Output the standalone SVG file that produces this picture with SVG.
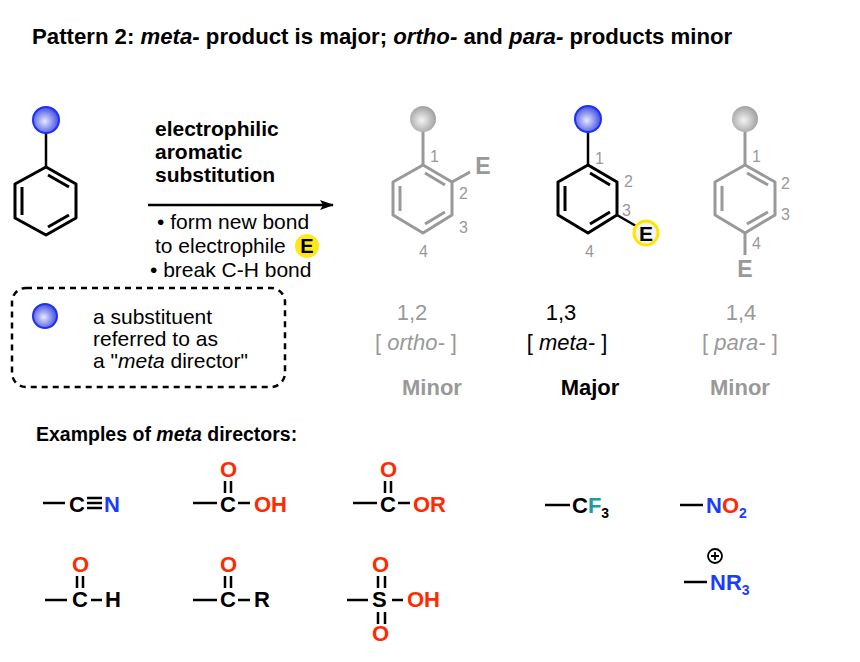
<svg xmlns="http://www.w3.org/2000/svg" width="860" height="662" viewBox="0 0 860 662">
<defs>
<radialGradient id="gb" cx="0.45" cy="0.55" r="0.6"><stop offset="0" stop-color="#e8e8ff"/><stop offset="1" stop-color="#3040e0"/></radialGradient>
<radialGradient id="gg" cx="0.45" cy="0.55" r="0.6"><stop offset="0" stop-color="#f4f4f4"/><stop offset="1" stop-color="#999"/></radialGradient>
<marker id="ah" markerWidth="14" markerHeight="10" refX="13" refY="5" orient="auto" markerUnits="userSpaceOnUse"><path d="M0,0 L14,5 L0,10 L3,5 Z" fill="#000"/></marker>
</defs>
<style>
text{font-family:"Liberation Sans",Arial,sans-serif}
.b{font-weight:bold}
.ring{fill:none;stroke-width:3;stroke-linejoin:round}
.k{stroke:#000}.g{stroke:#999}
.num{font-size:16px;fill:#999}
.cap{font-size:22px;text-anchor:middle}
.t{font-size:21px}
.ex{font-size:22px;font-weight:bold}
.bd{stroke:#000;stroke-width:2.5}
.red{fill:#ff2a00}.blue{fill:#1a3cff}
</style>
<rect width="860" height="662" fill="#fff"/>
<text x="32" y="44" class="b" font-size="22.2">Pattern 2: <tspan font-style="italic">meta-</tspan>  product is major; <tspan font-style="italic">ortho-</tspan> and <tspan font-style="italic">para-</tspan> products minor</text>

<g id="start">
<line x1="46" y1="120" x2="46" y2="167" class="bd"/>
<circle cx="46" cy="120" r="13" fill="url(#gb)" stroke="#2030f0" stroke-width="2"/>
<path class="ring k" d="M46,167 L76,184 L76,218 L46,235 L15,218 L15,184 Z"/>
<path class="ring k" d="M48,175 L69,187 M22,187 L22,215 M69,215 L48,227"/>
</g>

<g id="connectors">
<line x1="148" y1="205" x2="333" y2="205" stroke="#000" stroke-width="2.5" marker-end="url(#ah)"/>
</g>
<g id="reaction-label">
<text x="155" y="136" class="b t">electrophilic</text>
<text x="155" y="159" class="b t">aromatic</text>
<text x="155" y="182" class="b t">substitution</text>
<text x="157" y="229" class="t">• form new bond</text>
<text x="155" y="253" class="t">to electrophile</text>
<circle cx="307" cy="246" r="12" fill="#ffe81a"/>
<text x="307" y="253" class="b" font-size="20" text-anchor="middle">E</text>
<text x="150" y="277" class="t">• break C-H bond</text>
</g>

<g id="legend">
<rect x="12" y="288" width="273" height="99" rx="14" fill="none" stroke="#000" stroke-width="2.5" stroke-dasharray="6,5"/>
<circle cx="45" cy="316" r="12" fill="url(#gb)" stroke="#2030f0" stroke-width="2"/>
<text x="93" y="324" class="t">a substituent</text>
<text x="93" y="346" class="t">referred to as</text>
<text x="93" y="368" class="t">a  "<tspan font-style="italic">meta</tspan> director"</text>
</g>

<g id="ortho">
<line x1="423" y1="119" x2="423" y2="165" class="g" stroke-width="3"/>
<circle cx="423" cy="119" r="13" fill="url(#gg)"/>
<path class="ring g" d="M423,165 L452,182 L452,215 L423,233 L393,215 L393,182 Z"/>
<path class="ring g" d="M425,173 L445,185 M400,186 L400,211 M445,212 L425,224"/>
<line x1="452" y1="182" x2="470" y2="172" class="g" stroke-width="3"/>
<text x="483" y="174" class="b" font-size="23" fill="#999" text-anchor="middle">E</text>
<text x="430" y="162" class="num">1</text>
<text x="459" y="199" class="num">2</text>
<text x="459" y="233" class="num">3</text>
<text x="419" y="257" class="num">4</text>
<text x="412" y="320" class="cap" fill="#999" font-size="24">1,2</text>
<text x="416" y="350" class="cap" fill="#999">[ <tspan font-style="italic">ortho-</tspan> ]</text>
<text x="432" y="395" class="cap b" fill="#999">Minor</text>
</g>

<g id="meta">
<line x1="588" y1="119" x2="588" y2="165" class="bd" stroke-width="3"/>
<circle cx="588" cy="119" r="13" fill="url(#gb)" stroke="#2030f0" stroke-width="2"/>
<path class="ring k" d="M588,165 L617,182 L617,215 L588,233 L558,215 L558,182 Z"/>
<path class="ring k" d="M590,173 L610,185 M565,186 L565,211 M610,212 L590,224"/>
<line x1="617" y1="215" x2="636" y2="226" class="bd" stroke-width="3"/>
<circle cx="646" cy="233" r="12" fill="#f4f4f4" stroke="#ffe600" stroke-width="3"/>
<text x="646" y="241" class="b" font-size="21" text-anchor="middle">E</text>
<text x="595" y="164" class="num">1</text>
<text x="624" y="187" class="num">2</text>
<text x="622" y="216" class="num">3</text>
<text x="585" y="257" class="num">4</text>
<text x="561" y="320" class="cap" font-size="24">1,3</text>
<text x="567" y="350" class="cap">[ <tspan font-style="italic">meta-</tspan> ]</text>
<text x="590" y="395" class="cap b">Major</text>
</g>

<g id="para">
<line x1="745" y1="119" x2="745" y2="165" class="g" stroke-width="3"/>
<circle cx="745" cy="119" r="13" fill="url(#gg)"/>
<path class="ring g" d="M745,165 L775,182 L775,215 L745,233 L715,215 L715,182 Z"/>
<path class="ring g" d="M747,173 L768,185 M722,186 L722,211 M768,212 L747,224"/>
<line x1="745" y1="233" x2="745" y2="255" class="g" stroke-width="3"/>
<text x="745" y="277" class="b" font-size="23" fill="#999" text-anchor="middle">E</text>
<text x="752" y="162" class="num">1</text>
<text x="781" y="189" class="num">2</text>
<text x="781" y="220" class="num">3</text>
<text x="752" y="249" class="num">4</text>
<text x="741" y="320" class="cap" fill="#999" font-size="24">1,4</text>
<text x="740" y="350" class="cap" fill="#999">[ <tspan font-style="italic">para-</tspan> ]</text>
<text x="740" y="395" class="cap b" fill="#999">Minor</text>
</g>

<text x="36" y="441" class="b" font-size="19.5">Examples of <tspan font-style="italic">meta</tspan> directors:</text>

<g id="nitrile">
<line x1="43" y1="503" x2="65" y2="503" class="bd"/>
<text x="69" y="512" class="ex">C</text>
<path d="M87,498 H102 M87,503 H102 M87,508 H102" class="bd" stroke-width="2"/>
<text x="104" y="512" class="ex blue">N</text>
</g>
<g id="acid">
<line x1="193" y1="503" x2="217" y2="503" class="bd"/>
<text x="220" y="512" class="ex">C</text>
<text x="220" y="477" class="ex red">O</text>
<path d="M225,481 V493 M231,481 V493" class="bd" stroke-width="2.2"/>
<line x1="238" y1="503" x2="250" y2="503" class="bd"/>
<text x="254" y="512" class="ex red">OH</text>
</g>
<g id="ester">
<line x1="353" y1="503" x2="377" y2="503" class="bd"/>
<text x="380" y="512" class="ex">C</text>
<text x="380" y="477" class="ex red">O</text>
<path d="M385,481 V493 M391,481 V493" class="bd" stroke-width="2.2"/>
<line x1="398" y1="503" x2="410" y2="503" class="bd"/>
<text x="413" y="512" class="ex red">OR</text>
</g>
<g id="cf3">
<line x1="545" y1="505" x2="570" y2="505" class="bd"/>
<text x="572" y="513" class="ex">C<tspan fill="#1aa09a">F</tspan><tspan font-size="14" dy="5">3</tspan></text>
</g>
<g id="nitro">
<line x1="680" y1="505" x2="703" y2="505" class="bd"/>
<text x="706" y="513" class="ex blue">N<tspan class="red">O</tspan><tspan font-size="14" dy="5">2</tspan></text>
</g>
<g id="aldehyde">
<line x1="45" y1="600" x2="67" y2="600" class="bd"/>
<text x="72" y="607" class="ex">C</text>
<text x="72" y="572" class="ex red">O</text>
<path d="M77,576 V588 M83,576 V588" class="bd" stroke-width="2.2"/>
<line x1="91" y1="600" x2="102" y2="600" class="bd"/>
<text x="105" y="607" class="ex">H</text>
</g>
<g id="ketone">
<line x1="193" y1="600" x2="217" y2="600" class="bd"/>
<text x="220" y="607" class="ex">C</text>
<text x="220" y="572" class="ex red">O</text>
<path d="M225,576 V588 M231,576 V588" class="bd" stroke-width="2.2"/>
<line x1="238" y1="600" x2="250" y2="600" class="bd"/>
<text x="254" y="607" class="ex">R</text>
</g>
<g id="sulfonic">
<line x1="347" y1="600" x2="368" y2="600" class="bd"/>
<text x="372" y="607" class="ex">S</text>
<text x="372" y="572" class="ex red">O</text>
<path d="M378,576 V588 M385,576 V588" class="bd" stroke-width="2.2"/>
<path d="M378,612 V624 M385,612 V624" class="bd" stroke-width="2.2"/>
<text x="372" y="641" class="ex red">O</text>
<line x1="392" y1="600" x2="403" y2="600" class="bd"/>
<text x="407" y="607" class="ex red">OH</text>
</g>
<g id="ammonium">
<circle cx="715" cy="556" r="7" fill="none" stroke="#000" stroke-width="1.8"/>
<path d="M711,556 H719 M715,552 V560" stroke="#000" stroke-width="1.8"/>
<line x1="684" y1="582" x2="707" y2="582" class="bd"/>
<text x="710" y="590" class="ex blue">NR<tspan font-size="14" dy="5">3</tspan></text>
</g>
</svg>
